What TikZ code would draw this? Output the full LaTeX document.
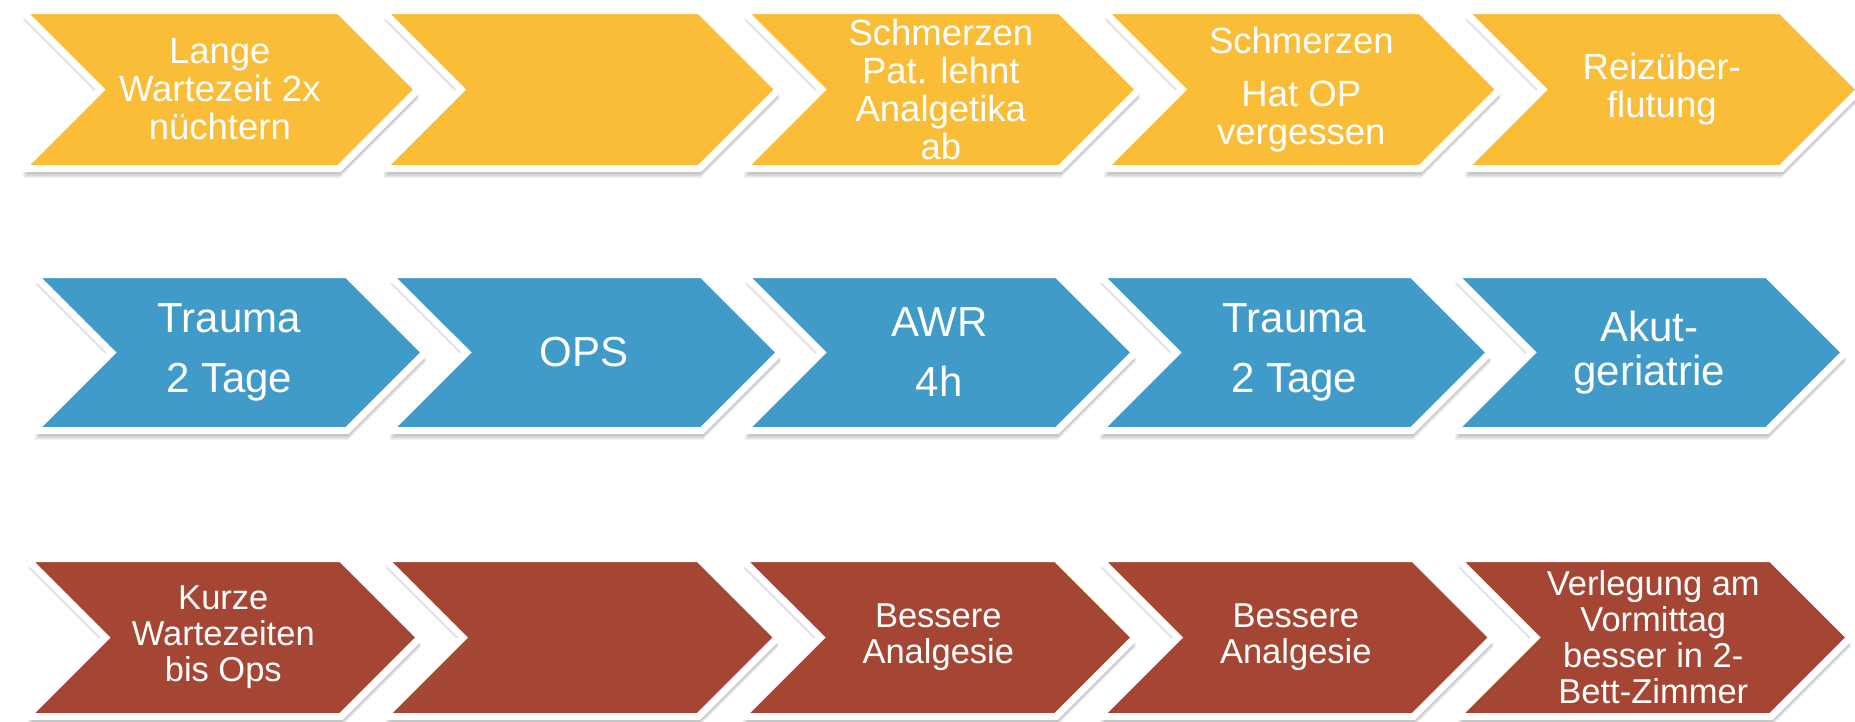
\documentclass[tikz,border=0pt]{standalone}
\usepackage{fontspec}
\setmainfont{Liberation Sans}
\usetikzlibrary{shapes.symbols}
\definecolor{sun}{HTML}{F9BD38}
\definecolor{sky}{HTML}{419BC9}
\definecolor{brick}{HTML}{A54634}

\begin{document}
\begin{tikzpicture}[x=1pt, y=-1pt,
	soft/.style={preaction={fill=black, opacity=.09, transform canvas={xshift=1pt, yshift=-#1}}},
	chev/.style={signal, signal to=east, signal from=west, draw=white, line width=7pt,
		inner sep=0pt, text=white, align=center, soft=5pt, soft=7pt, soft=9pt}]
	\path[use as bounding box] (0,0) rectangle (1855,721);
	% Zeile 1
	\foreach \i/\txt in {1/{Lange\\Wartezeit 2x\\nüchtern}, 2/{}, 3/{Schmerzen\\Pat. lehnt\\Analgetika\\ab},
		4/{Schmerzen\\[15pt]Hat OP\\vergessen}, 5/{Reizüber-\\flutung}}{
		\node[chev, fill=sun, minimum width=396.5pt, minimum height=158pt,
			font=\fontsize{36.5}{38}\selectfont] (gelb\i) at ({219.8+360.5*(\i-1)},89.5) {\txt};
	}
	% Zeile 2
	\foreach \i/\txt in {1/{Trauma\\[10pt]2 Tage}, 2/{OPS}, 3/{AWR\\[10pt]4h},
		4/{Trauma\\[10pt]2 Tage}, 5/{Akut-\\[-6pt]geriatrie}}{
		\node[chev, fill=sky, minimum width=391.5pt, minimum height=156pt,
			font=\fontsize{42}{50}\selectfont] (blau\i) at ({229.3+355*(\i-1)},352.5) {\txt};
	}
	% Zeile 3
	\foreach \i/\txt in {1/{Kurze\\Wartezeiten\\bis Ops}, 2/{}, 3/{Bessere\\Analgesie},
		4/{Bessere\\Analgesie}, 5/{Verlegung am\\Vormittag\\besser in 2-\\Bett-Zimmer}}{
		\node[chev, fill=brick, minimum width=393.5pt, minimum height=158pt,
			font=\fontsize{34.5}{36}\selectfont] (rot\i) at ({223.3+357.5*(\i-1)},637.5) {\txt};
	}
\end{tikzpicture}
\end{document}
